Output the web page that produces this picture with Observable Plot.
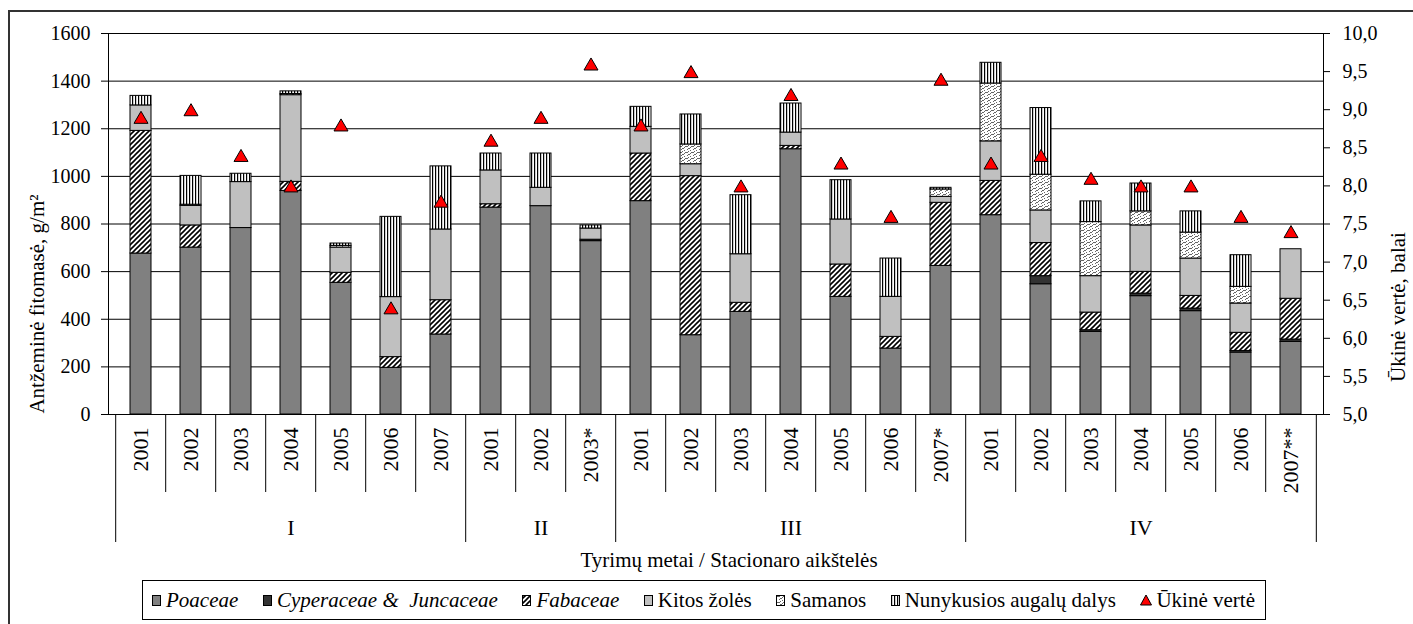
<!DOCTYPE html>
<html>
<head>
<meta charset="utf-8">
<script src="https://cdn.jsdelivr.net/npm/d3@7"></script>
<script src="https://cdn.jsdelivr.net/npm/@observablehq/plot@0.6"></script>
<style>
  body { margin: 0; background: #fff; color: #000; font-family: "Liberation Serif", "Times New Roman", serif; }
  #wrap { position: relative; width: 1413px; height: 624px; overflow: hidden; }
  #border { position: absolute; left: 8px; top: 10px; width: 1500px; height: 700px; border-left: 2px solid #333; border-top: 2px solid #333; }
  #chart { position: absolute; left: 0; top: 0; }
  .ytitle { position: absolute; white-space: nowrap; font-size: 21px; transform: translate(-50%, -50%) rotate(-90deg); }
  #xtitle { position: absolute; left: 729px; top: 560px; transform: translate(-50%, -50%); font-size: 21px; white-space: nowrap; }
  #legend { position: absolute; left: 142px; top: 580px; width: 1124px; height: 40px; box-sizing: border-box; border: 1px solid #000;
            display: flex; align-items: center; justify-content: space-between; padding: 0 10px 0 9px; font-size: 21px; white-space: nowrap; }
  .item { display: flex; align-items: center; }
  .item svg { margin-right: 4px; }
  .it { font-style: italic; }
</style>
</head>
<body>
<div id="wrap">
  <div id="border"></div>
  <div id="chart"></div>
  <div class="ytitle" style="left:37px; top:304px;">Antžeminė fitomasė, g/m²</div>
  <div class="ytitle" style="left:1398px; top:307px;">Ūkinė vertė, balai</div>
  <div id="xtitle">Tyrimų metai / Stacionaro aikštelės</div>
  <div id="legend"></div>
</div>
<script>
// Study plots (stacionaro aikštelės) and survey years
const groups = ["I","I","I","I","I","I","I","II","II","II","III","III","III","III","III","III","III","IV","IV","IV","IV","IV","IV","IV"];
const years  = ["2001","2002","2003","2004","2005","2006","2007","2001","2002","2003*","2001","2002","2003","2004","2005","2006","2007*","2001","2002","2003","2004","2005","2006","2007**"];

// Above-ground phytomass by plant group, g/m²
const poaceae     = [676, 701, 783, 939, 553, 196, 336, 869, 875, 728, 896, 333, 431, 1114, 494, 277, 624, 837, 547, 347, 497, 434, 260, 305];
const cyperaceae  = [0, 0, 0, 0, 0, 0, 0, 0, 0, 6, 0, 0, 0, 0, 0, 0, 0, 0, 34, 7, 11, 11, 7, 10];
const fabaceae    = [515, 93, 0, 38, 42, 45, 144, 14, 0, 0, 200, 668, 38, 14, 136, 49, 265, 144, 139, 74, 91, 53, 76, 171];
const kitosZoles  = [107, 82, 193, 364, 106, 252, 297, 142, 77, 47, 112, 50, 204, 56, 189, 168, 25, 166, 137, 153, 195, 157, 123, 208];
const samanos     = [0, 5, 0, 5, 7, 0, 0, 0, 0, 0, 0, 83, 0, 0, 0, 0, 31, 243, 150, 227, 59, 109, 70, 0];
const nunykusios  = [40, 121, 35, 11, 10, 337, 265, 71, 144, 13, 84, 126, 248, 122, 165, 161, 7, 87, 280, 87, 117, 89, 133, 0];

// Economic value (ūkinė vertė), points
const ukineVerte  = [8.9, 9.0, 8.4, 8.0, 8.8, 6.4, 7.8, 8.6, 8.9, 9.6, 8.8, 9.5, 8.0, 9.2, 8.3, 7.6, 9.4, 8.3, 8.4, 8.1, 8.0, 8.0, 7.6, 7.4];

// Axis ticks
const leftTicks  = [0, 200, 400, 600, 800, 1000, 1200, 1400, 1600];
const rightTicks = [5.0, 5.5, 6.0, 6.5, 7.0, 7.5, 8.0, 8.5, 9.0, 9.5, 10.0];

const seriesNames  = ["Poaceae", "Cyperaceae & Juncaceae", "Fabaceae", "Kitos žolės", "Samanos", "Nunykusios augalų dalys"];
const seriesValues = [poaceae, cyperaceae, fabaceae, kitosZoles, samanos, nunykusios];
const seriesFills  = ["#808080", "#333333", "url(#pat-fab)", "#c0c0c0", "url(#pat-sam)", "url(#pat-nun)"];

const keys = groups.map((g, i) => g + "|" + years[i]);
const stacked = keys.flatMap((k, i) => seriesNames.map((s, j) => ({key: k, series: s, value: seriesValues[j][i]})))
  .filter(d => d.value > 0);
const markers = keys.map((k, i) => ({key: k, value: ukineVerte[i]}));

// the secondary scale (5–10 points) shares the primary 0–1600 range
const yMax = 1600, rMin = 5, rMax = 10;
const toLeft = v => (v - rMin) * yMax / (rMax - rMin);

// separators below the axis: long ones between plots, short ones between years
const groupStarts = keys.filter((k, i) => i === 0 || groups[i] !== groups[i - 1]);
const yearStarts = keys.filter((k, i) => i > 0 && groups[i] === groups[i - 1]);
const groupMiddles = [...new Set(groups)].map(g => {
  const ks = keys.filter((k, i) => groups[i] === g);
  return ks[Math.floor(ks.length / 2)];
});

const width = 1413, height = 550;
const marginLeft = 108, marginRight = 90, marginTop = 33, marginBottom = 136;
const step = (width - marginLeft - marginRight) / keys.length;

// triangle marker, slightly wider than tall
const triangle = {
  draw(ctx, size) {
    const r = Math.sqrt(size / Math.PI);
    const w = r, h = r * 0.86;
    ctx.moveTo(0, -h);
    ctx.lineTo(w, h);
    ctx.lineTo(-w, h);
    ctx.closePath();
  }
};

const chart = Plot.plot({
  width, height, marginLeft, marginRight, marginTop, marginBottom,
  style: {fontFamily: "Liberation Serif, Times New Roman, serif", fontSize: "20px", color: "#000", background: "transparent", overflow: "visible"},
  x: {type: "band", domain: keys, paddingInner: 0.575, paddingOuter: 0.2875},
  y: {domain: [0, yMax]},
  color: {type: "ordinal", domain: seriesNames, range: seriesFills},
  marks: [
    Plot.gridY(leftTicks.filter(t => t > 0 && t < yMax), {stroke: "#000", strokeOpacity: 1}),
    Plot.barY(stacked, {x: "key", y: "value", fill: "series", stroke: "#000", strokeWidth: 1}),
    Plot.frame({stroke: "#000"}),
    Plot.axisY(leftTicks, {anchor: "left", tickSize: 7, tickPadding: 11, label: null, fontSize: 20,
      tickFormat: d => String(d)}),
    Plot.axisY(rightTicks.map(toLeft), {anchor: "right", tickSize: 6, tickPadding: 13, label: null, fontSize: 20,
      tickFormat: d => (d * (rMax - rMin) / yMax + rMin).toFixed(1).replace(".", ",")}),
    Plot.axisX({anchor: "bottom", tickSize: 0, tickPadding: 13, tickRotate: -90, textAnchor: "end", fontSize: 22, label: null,
      tickFormat: k => k.split("|")[1]}),
    Plot.axisX(groupMiddles, {anchor: "bottom", tickSize: 0, tickPadding: 105, fontSize: 22, label: null,
      tickFormat: k => k.split("|")[0]}),
    Plot.axisX(yearStarts, {anchor: "bottom", tickSize: 78, fill: "none", label: null, dx: -step / 2}),
    Plot.axisX(groupStarts, {anchor: "bottom", tickSize: 128, fill: "none", label: null, dx: -step / 2}),
    Plot.axisX(keys.slice(-1), {anchor: "bottom", tickSize: 128, fill: "none", label: null, dx: step / 2}),
    Plot.dot(markers, {x: "key", y: d => toLeft(d.value), symbol: triangle, r: 7, fill: "#ff0000", stroke: "#000", strokeWidth: 1})
  ]
});

// hatch patterns used by the bar fills and the legend swatches
d3.select(chart).insert("defs", ":first-child").html(`
  <pattern id="pat-fab" patternUnits="userSpaceOnUse" width="5" height="5">
    <rect width="5" height="5" fill="#fff"/>
    <path d="M-1,1 L1,-1 M0,5 L5,0 M4,6 L6,4" stroke="#000" stroke-width="1.6"/>
  </pattern>
  <pattern id="pat-sam" patternUnits="userSpaceOnUse" width="6" height="6">
    <rect width="6" height="6" fill="#fff"/>
    <path d="M0,4 L2,2 L3,3 L5,1 M3,6 L5,4 L6,5 M0,1 L1,0" stroke="#666" stroke-width="1" fill="none"/>
  </pattern>
  <pattern id="pat-nun" patternUnits="userSpaceOnUse" width="3" height="3">
    <rect width="3" height="3" fill="#fff"/>
    <rect x="0" y="0" width="1.2" height="3" fill="#000"/>
  </pattern>`);

document.getElementById("chart").append(chart);

// legend
const legendItems = [
  {label: "Poaceae", italic: true, fill: seriesFills[0]},
  {label: "Cyperaceae &amp;&nbsp; Juncaceae", italic: true, fill: seriesFills[1]},
  {label: "Fabaceae", italic: true, fill: seriesFills[2]},
  {label: "Kitos žolės", italic: false, fill: seriesFills[3]},
  {label: "Samanos", italic: false, fill: seriesFills[4]},
  {label: "Nunykusios augalų dalys", italic: false, fill: seriesFills[5]},
  {label: "Ūkinė vertė", italic: false, marker: true}
];
const legend = document.getElementById("legend");
legend.innerHTML = legendItems.map(it => {
  const sw = it.marker
    ? `<svg width="12" height="12"><path d="M6,1 L11.5,11 L0.5,11 Z" fill="#ff0000" stroke="#000" stroke-width="1"/></svg>`
    : `<svg width="10" height="12"><rect x="0.5" y="1.5" width="8" height="10" fill="${it.fill}" stroke="#000" stroke-width="1"/></svg>`;
  return `<span class="item">${sw}<span class="${it.italic ? "it" : ""}">${it.label}</span></span>`;
}).join("");
</script>
</body>
</html>
